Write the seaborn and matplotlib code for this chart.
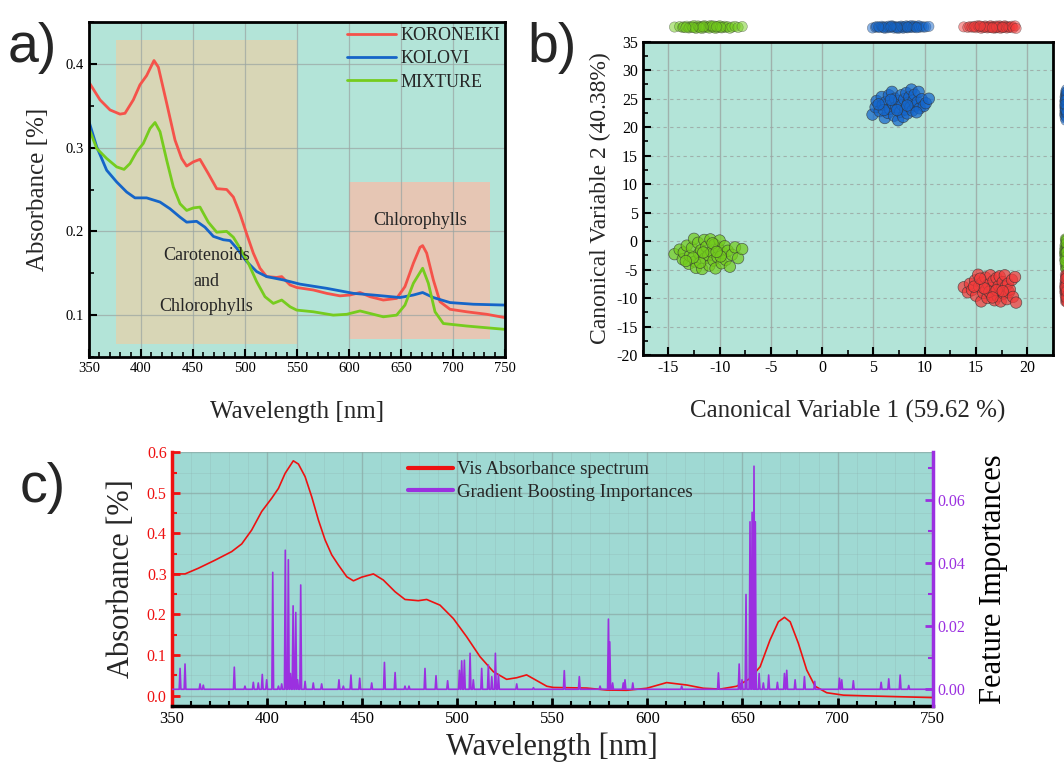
import numpy as np
import pandas as pd
import matplotlib
matplotlib.use("Agg")
import matplotlib.pyplot as plt
import seaborn as sns
from matplotlib.ticker import MultipleLocator

# ---- panel a: Vis spectra ----
wl_kor = [350, 360.6, 370.2, 379.8, 384.6, 392.6, 399, 405.4, 412.5, 416.7, 424.7, 432.7, 439.1, 443.9,
          450.3, 456.7, 464.7, 472.8, 482.4, 488.8, 495.2, 501.6, 508, 514.4, 520.8, 530.4, 535.3, 543.3,
          549.7, 565.7, 578.5, 591.3, 600.9, 610.6, 620.2, 633, 645.8, 653.8, 661.9, 668.3, 670.8, 674.7,
          681.1, 687.5, 697.1, 713.1, 732.4, 750]
ab_kor = [0.378, 0.357, 0.345, 0.340, 0.341, 0.357, 0.375, 0.386, 0.404, 0.396, 0.353, 0.309, 0.287, 0.278,
          0.283, 0.286, 0.269, 0.251, 0.250, 0.241, 0.221, 0.197, 0.174, 0.156, 0.146, 0.145, 0.146, 0.136,
          0.133, 0.130, 0.126, 0.123, 0.124, 0.127, 0.122, 0.118, 0.120, 0.134, 0.162, 0.181, 0.183, 0.174,
          0.142, 0.116, 0.107, 0.104, 0.101, 0.097]

wl_kol = [350, 357.4, 367, 376.6, 386.2, 394.2, 405.4, 418.3, 427.9, 437.5, 443.9, 453.5, 461.5, 469.6,
          479.2, 485.6, 492, 501.6, 511.2, 520.8, 536.9, 552.9, 578.5, 604.2, 623.4, 649, 661.9, 670.8,
          681.1, 697.1, 719.6, 750]
ab_kol = [0.331, 0.301, 0.273, 0.259, 0.247, 0.240, 0.240, 0.235, 0.227, 0.217, 0.211, 0.212, 0.205, 0.194,
          0.190, 0.189, 0.180, 0.164, 0.152, 0.146, 0.142, 0.137, 0.132, 0.126, 0.124, 0.121, 0.124, 0.127,
          0.121, 0.115, 0.113, 0.112]

wl_mix = [350, 357.4, 367, 376.6, 383.7, 389.4, 395.8, 402.2, 408.7, 413.5, 418.3, 424.7, 431.1, 437.5,
          443.9, 450.3, 456.7, 464.7, 472.8, 482.4, 488.8, 495.2, 503.2, 511.2, 519.2, 527.2, 535.3, 543.3,
          549.7, 565.7, 584.9, 597.8, 610.6, 620.2, 633, 645.8, 653.8, 661.9, 670.8, 676.3, 682.7, 690.7,
          713.1, 750]
ab_mix = [0.323, 0.299, 0.287, 0.277, 0.274, 0.281, 0.295, 0.305, 0.323, 0.330, 0.319, 0.285, 0.253, 0.233,
          0.225, 0.228, 0.229, 0.211, 0.199, 0.200, 0.193, 0.180, 0.162, 0.140, 0.122, 0.114, 0.118, 0.110,
          0.106, 0.104, 0.100, 0.101, 0.105, 0.102, 0.098, 0.100, 0.112, 0.138, 0.156, 0.138, 0.104, 0.090,
          0.087, 0.083]

# ---- panel b: canonical variables ----
green_pts = [(-14.4, -2.3), (-13.9, -1.5), (-13.6, -3.2), (-13.5, -2.0), (-13.2, -0.8), (-13.0, -4.0),
             (-12.9, -2.6), (-12.7, -1.2), (-12.5, 0.4), (-12.4, -3.6), (-12.3, -4.7), (-12.1, -0.3),
             (-12.0, -2.2), (-11.8, -1.6), (-11.7, -4.9), (-11.5, 0.2), (-11.4, -3.0), (-11.3, -1.0),
             (-11.1, -2.5), (-11.0, -4.3), (-10.9, 0.3), (-10.8, -1.9), (-10.6, -3.4), (-10.5, -0.6),
             (-10.4, -4.8), (-10.2, -2.8), (-10.1, -1.3), (-10.0, 0.1), (-9.8, -3.9), (-9.7, -2.1),
             (-9.5, -0.9), (-9.4, -3.3), (-9.2, -1.7), (-9.0, -4.5), (-8.8, -2.4), (-8.5, -1.1),
             (-8.2, -3.0), (-7.8, -1.4), (-11.9, -3.8), (-12.6, -2.9), (-10.7, -0.4), (-11.6, -2.0),
             (-9.9, -2.7), (-13.3, -3.5), (-10.3, -1.9)]
blue_pts = [(4.9, 22.2), (5.2, 23.5), (5.3, 24.6), (5.6, 22.8), (5.8, 25.3), (5.9, 23.9), (6.1, 21.6),
            (6.2, 24.4), (6.4, 22.5), (6.5, 25.6), (6.6, 23.2), (6.8, 26.2), (6.9, 24.1), (7.0, 22.0),
            (7.1, 25.0), (7.2, 23.5), (7.4, 21.2), (7.5, 24.6), (7.6, 22.7), (7.7, 25.6), (7.8, 23.9),
            (7.9, 21.8), (8.0, 24.9), (8.1, 23.1), (8.2, 26.0), (8.3, 22.4), (8.4, 24.3), (8.5, 25.3),
            (8.6, 23.5), (8.7, 26.6), (8.8, 22.9), (8.9, 24.7), (9.0, 25.7), (9.1, 23.8), (9.3, 24.4),
            (9.4, 26.2), (9.5, 23.3), (9.7, 24.9), (9.9, 23.7), (10.1, 24.2), (10.4, 25.0), (6.0, 23.0),
            (7.3, 23.0), (8.3, 23.8), (6.7, 24.8), (5.5, 24.0), (9.2, 22.6)]
red_pts = [(13.8, -8.1), (14.2, -9.0), (14.4, -7.5), (14.6, -8.6), (14.9, -6.9), (15.0, -9.6), (15.2, -5.9),
           (15.3, -8.0), (15.5, -10.6), (15.6, -7.3), (15.7, -9.1), (15.9, -6.4), (16.0, -8.5), (16.1, -10.0),
           (16.2, -7.6), (16.4, -6.0), (16.5, -9.4), (16.6, -8.2), (16.7, -7.0), (16.8, -10.4), (16.9, -8.8),
           (17.0, -6.5), (17.1, -9.7), (17.2, -7.9), (17.3, -6.2), (17.4, -10.6), (17.5, -8.4), (17.6, -7.2),
           (17.7, -9.2), (17.8, -6.0), (17.9, -8.0), (18.0, -10.2), (18.1, -7.5), (18.2, -9.0), (18.3, -8.5),
           (18.5, -6.8), (18.6, -9.8), (18.8, -6.3), (18.9, -10.8), (16.3, -8.9), (15.8, -8.3), (17.0, -8.6),
           (14.8, -8.0), (16.6, -9.9), (17.6, -8.8), (15.4, -6.6)]

# ---- panel c: mean spectrum + gradient boosting importances ----
wl_vis = [350, 357.1, 364.1, 372.9, 381.6, 386.9, 392.1, 397.4, 402.7, 406.2, 409.7, 414.0, 416.7, 420.2,
          423.7, 427.2, 430.7, 434.2, 437.7, 442.1, 445.6, 449.9, 456.1, 461.3, 467.5, 472.7, 479.7, 484.1,
          491.1, 498.1, 505.1, 512.1, 519.1, 526.1, 531.4, 536.6, 541.9, 547.2, 550.7, 568.2, 578.7, 589.2,
          599.7, 610.2, 620.8, 629.5, 638.3, 647, 654, 659.3, 664.5, 668.9, 672.1, 675.1, 679.4, 683.8,
          688.2, 694.3, 703.1, 717.1, 750]
ab_vis = [0.300, 0.300, 0.314, 0.334, 0.355, 0.374, 0.408, 0.454, 0.487, 0.511, 0.548, 0.579, 0.571, 0.540,
          0.490, 0.433, 0.384, 0.347, 0.322, 0.293, 0.283, 0.292, 0.300, 0.285, 0.256, 0.237, 0.234, 0.237,
          0.223, 0.190, 0.145, 0.096, 0.059, 0.040, 0.044, 0.051, 0.037, 0.023, 0.020, 0.0185, 0.0136, 0.013,
          0.018, 0.032, 0.026, 0.018, 0.016, 0.023, 0.042, 0.071, 0.137, 0.182, 0.193, 0.182, 0.129, 0.063,
          0.023, 0.007, 0.001, -0.001, -0.005]

wl_imp = [354.5, 357.1, 365, 366.7, 383, 388.6, 393, 395.6, 397.7, 400, 403.2, 406.2, 407.9, 409.8, 411.4,
          412.5, 413.9, 415.3, 416.3, 417.9, 420.2, 424.5, 428.9, 438, 440.3, 444.3, 448.9, 455.2, 461.9,
          467.5, 472.7, 474.8, 483.2, 489, 495.1, 501.3, 502.5, 503.9, 506.9, 508.6, 513, 516.5, 518.3,
          520.2, 521.8, 531.4, 540.2, 556.4, 564.3, 575.2, 579.6, 580.3, 581.8, 587.4, 588.3, 592.4, 618.1,
          637.4, 648.3, 649.8, 651.9, 654, 655.1, 656.1, 656.8, 658.8, 661, 663.8, 668.4, 672.1, 673.3,
          677.7, 682.6, 688, 701, 702.2, 708.3, 722.9, 726.9, 732.9, 737.4]
imp = [0.0066, 0.008, 0.0017, 0.0013, 0.007, 0.001, 0.0022, 0.002, 0.0047, 0.003, 0.037, 0.001, 0.0017,
       0.044, 0.041, 0.005, 0.0264, 0.0243, 0.003, 0.033, 0.0025, 0.002, 0.0017, 0.003, 0.001, 0.0045,
       0.0035, 0.002, 0.0085, 0.0053, 0.001, 0.001, 0.0066, 0.0043, 0.0027, 0.006, 0.009, 0.0092, 0.0114,
       0.003, 0.0066, 0.0077, 0.004, 0.0114, 0.0047, 0.0017, 0.0005, 0.0059, 0.004, 0.001, 0.0222, 0.015,
       0.002, 0.002, 0.003, 0.002, 0.001, 0.0052, 0.008, 0.003, 0.030, 0.053, 0.056, 0.0706, 0.053, 0.005,
       0.002, 0.0045, 0.0022, 0.005, 0.006, 0.003, 0.004, 0.0025, 0.0035, 0.003, 0.0027, 0.0022, 0.0033,
       0.0045, 0.0012]

# colours
BG_A = "#b3e4d8"
BG_C = "#9fd9d3"
C_KOR, C_KOL, C_MIX = "#f5524a", "#1565c8", "#76cc1e"
C_RED, C_PUR = "#ee1111", "#9b30e0"
GRID = "#9aa5a2"

sns.set_theme(style="ticks")
plt.rcParams["font.family"] = ["Liberation Serif", "DejaVu Serif"]
plt.rcParams["axes.unicode_minus"] = False
plt.rcParams["xtick.direction"] = "in"
plt.rcParams["ytick.direction"] = "in"

W, H = 1064, 769
fig = plt.figure(figsize=(W / 100, H / 100), dpi=100)


def box(l, t, r, b):
    return [l / W, 1 - b / H, (r - l) / W, (b - t) / H]


def style_frame(ax, lw=2.0):
    for s in ax.spines.values():
        s.set_linewidth(lw)
        s.set_color("black")
    ax.tick_params(which="major", length=6, width=1.5, colors="black")
    ax.tick_params(which="minor", length=3.5, width=1.2, colors="black")
    ax.tick_params(which="both", top=False, right=False)


# ---------------- a) ----------------
ax_a = fig.add_axes(box(89, 22, 505, 357))
ax_a.set_facecolor(BG_A)
ax_a.axvspan(376, 550, ymin=(0.066 - 0.05) / 0.4, ymax=(0.429 - 0.05) / 0.4, color="#d8d6b6", lw=0, zorder=0.5)
ax_a.axvspan(600, 736, ymin=(0.072 - 0.05) / 0.4, ymax=(0.259 - 0.05) / 0.4, color="#e6c6b4", lw=0, zorder=0.5)
sns.lineplot(x=wl_kor, y=ab_kor, ax=ax_a, color=C_KOR, lw=2, label="KORONEIKI", estimator=None)
sns.lineplot(x=wl_kol, y=ab_kol, ax=ax_a, color=C_KOL, lw=2, label="KOLOVI", estimator=None)
sns.lineplot(x=wl_mix, y=ab_mix, ax=ax_a, color=C_MIX, lw=2, label="MIXTURE", estimator=None)
ax_a.set_xlim(350, 750)
ax_a.set_ylim(0.05, 0.45)
ax_a.xaxis.set_major_locator(MultipleLocator(50))
ax_a.xaxis.set_minor_locator(MultipleLocator(10))
ax_a.set_yticks([0.1, 0.2, 0.3, 0.4])
ax_a.yaxis.set_minor_locator(MultipleLocator(0.05))
ax_a.grid(True, which="major", color=GRID, lw=0.9, alpha=0.7)
ax_a.set_axisbelow(True)
style_frame(ax_a)
ax_a.tick_params(labelsize=10.5)
ax_a.set_xlabel("Wavelength [nm]", fontsize=18, labelpad=19)
ax_a.set_ylabel("Absorbance [%]", fontsize=18, labelpad=12)
ax_a.text(463, 0.171, "Carotenoids", ha="center", va="center", fontsize=13)
ax_a.text(463, 0.140, "and", ha="center", va="center", fontsize=13)
ax_a.text(463, 0.110, "Chlorophylls", ha="center", va="center", fontsize=13)
ax_a.text(668, 0.213, "Chlorophylls", ha="center", va="center", fontsize=13)
ax_a.legend(loc="upper left", bbox_to_anchor=(0.62, 0.985), frameon=False, fontsize=13,
            handlelength=2.7, handletextpad=0.25, labelspacing=0.35, borderpad=0, borderaxespad=0)

# ---------------- b) ----------------
pts = pd.DataFrame(
    [(x, y, "MIXTURE") for x, y in green_pts]
    + [(x, y, "KOLOVI") for x, y in blue_pts]
    + [(x, y, "KORONEIKI") for x, y in red_pts],
    columns=["cv1", "cv2", "group"])
pal = {"MIXTURE": "#72cc1c", "KOLOVI": "#1466cc", "KORONEIKI": "#f33a3a"}

ax_b = fig.add_axes(box(642.7, 41.7, 1053, 355))
ax_b.set_facecolor(BG_A)
sns.scatterplot(data=pts, x="cv1", y="cv2", hue="group", palette=pal, ax=ax_b, s=68, alpha=0.72,
                edgecolor="#333333", linewidth=0.5, legend=False, zorder=3)
ax_b.set_xlim(-17.5, 22.5)
ax_b.set_ylim(-20, 35)
ax_b.xaxis.set_major_locator(MultipleLocator(5))
ax_b.xaxis.set_minor_locator(MultipleLocator(2.5))
ax_b.yaxis.set_major_locator(MultipleLocator(5))
ax_b.yaxis.set_minor_locator(MultipleLocator(2.5))
ax_b.grid(True, axis="x", which="major", color=GRID, lw=1.0, alpha=0.8)
ax_b.grid(True, axis="y", which="major", color=GRID, lw=0.8, ls=(0, (3, 3)), alpha=0.8)
ax_b.set_axisbelow(True)
style_frame(ax_b)
ax_b.tick_params(labelsize=11.5)
ax_b.set_xlabel("Canonical Variable 1 (59.62 %)", fontsize=18, labelpad=17)
ax_b.set_ylabel("Canonical Variable 2 (40.38%)", fontsize=17, labelpad=4)

# marginal strips (top and clipped right)
centre = pts.groupby("group")[["cv1", "cv2"]].transform("mean")
pts["dy"] = (pts["cv2"] - centre["cv2"]) * 0.05
pts["dx"] = (pts["cv1"] - centre["cv1"]) * 0.05
ax_t = fig.add_axes(box(642.7, 16, 1053, 38))
sns.scatterplot(data=pts, x="cv1", y="dy", hue="group", palette=pal, ax=ax_t, s=55, alpha=0.5,
                edgecolor="#333333", linewidth=0.4, legend=False)
ax_t.set_xlim(-17.5, 22.5)
ax_t.set_ylim(-1, 1)
ax_t.axis("off")
ax_r = fig.add_axes(box(1056, 41.7, 1076, 355))
sns.scatterplot(data=pts, x="dx", y="cv2", hue="group", palette=pal, ax=ax_r, s=55, alpha=0.5,
                edgecolor="#333333", linewidth=0.4, legend=False)
ax_r.set_xlim(-1, 1)
ax_r.set_ylim(-20, 35)
ax_r.axis("off")

# ---------------- c) ----------------
ax_c = fig.add_axes(box(171.5, 452.3, 932.7, 705.7))
ax_c.set_facecolor(BG_C)
sns.lineplot(x=wl_vis, y=ab_vis, ax=ax_c, color=C_RED, lw=1.2, estimator=None,
             label="Vis Absorbance spectrum", zorder=4)
ax_c.set_xlim(350, 750)
ax_c.set_ylim(-0.025, 0.6)
ax_c.xaxis.set_major_locator(MultipleLocator(50))
ax_c.xaxis.set_minor_locator(MultipleLocator(10))
ax_c.yaxis.set_major_locator(MultipleLocator(0.1))
ax_c.yaxis.set_minor_locator(MultipleLocator(0.05))
ax_c.grid(True, which="major", color="#8aa8a4", lw=1.0, alpha=0.7)
ax_c.grid(True, which="minor", color="#8aa8a4", lw=0.6, alpha=0.25)
ax_c.set_axisbelow(True)
for s in ["top", "right"]:
    ax_c.spines[s].set_visible(False)
ax_c.spines["left"].set_color(C_RED)
ax_c.spines["left"].set_linewidth(2.5)
ax_c.spines["bottom"].set_color("black")
ax_c.spines["bottom"].set_linewidth(2.5)
ax_c.tick_params(axis="x", which="major", length=6, width=2, colors="black", labelsize=12)
ax_c.tick_params(axis="x", which="minor", length=3.5, width=1.5, colors="black")
ax_c.tick_params(axis="y", which="major", length=6, width=2, colors=C_RED, labelsize=11.5)
ax_c.tick_params(axis="y", which="minor", length=3.5, width=1.5, colors=C_RED)
ax_c.set_xlabel("Wavelength [nm]", fontsize=22, labelpad=4)
ax_c.set_ylabel("Absorbance [%]", fontsize=22, labelpad=8)

# importances drawn as narrow spikes on a zero baseline
sx, sy = [350.0], [0.0]
for w, v in zip(wl_imp, imp):
    sx += [w - 0.45, w, w + 0.45]
    sy += [0.0, v, 0.0]
sx.append(750.0)
sy.append(0.0)
ax_c2 = ax_c.twinx()
sns.lineplot(x=sx, y=sy, ax=ax_c2, color=C_PUR, lw=1.1, estimator=None, sort=False,
             label="Gradient Boosting Importances", zorder=3)
ax_c2.set_ylim(-0.0052, 0.075)
ax_c2.yaxis.set_major_locator(MultipleLocator(0.02))
ax_c2.yaxis.set_minor_locator(MultipleLocator(0.01))
ax_c2.yaxis.set_major_formatter(matplotlib.ticker.FormatStrFormatter("%.2f"))
for s in ["top", "left", "bottom"]:
    ax_c2.spines[s].set_visible(False)
ax_c2.spines["right"].set_color(C_PUR)
ax_c2.spines["right"].set_linewidth(2.5)
ax_c2.tick_params(axis="y", which="major", length=6, width=2, colors=C_PUR, labelsize=11.5)
ax_c2.tick_params(axis="y", which="minor", length=3.5, width=1.5, colors=C_PUR)
ax_c2.set_ylabel("Feature Importances", fontsize=22, color="black", labelpad=10)
ax_c2.grid(False)

h1, lab1 = ax_c.get_legend_handles_labels()
h2, lab2 = ax_c2.get_legend_handles_labels()
ax_c2.get_legend().remove()
ax_c.get_legend().remove()
for h in h1 + h2:
    h.set_linewidth(3)
ax_c2.legend(h1 + h2, lab1 + lab2, loc="upper left", bbox_to_anchor=(0.311, 0.965), frameon=False,
             fontsize=13.5, handlelength=2.4, handletextpad=0.2, labelspacing=0.3, borderpad=0,
             borderaxespad=0)
for h in h1 + h2:
    h.set_linewidth(1.2)

# panel letters
for lbl, x, y in [("a)", 8, 62), ("b)", 527, 62), ("c)", 20, 502)]:
    fig.text(x / W, 1 - y / H, lbl, fontsize=40, family=["Liberation Sans", "DejaVu Sans"], va="baseline")

fig.savefig("out.png", dpi=100)
